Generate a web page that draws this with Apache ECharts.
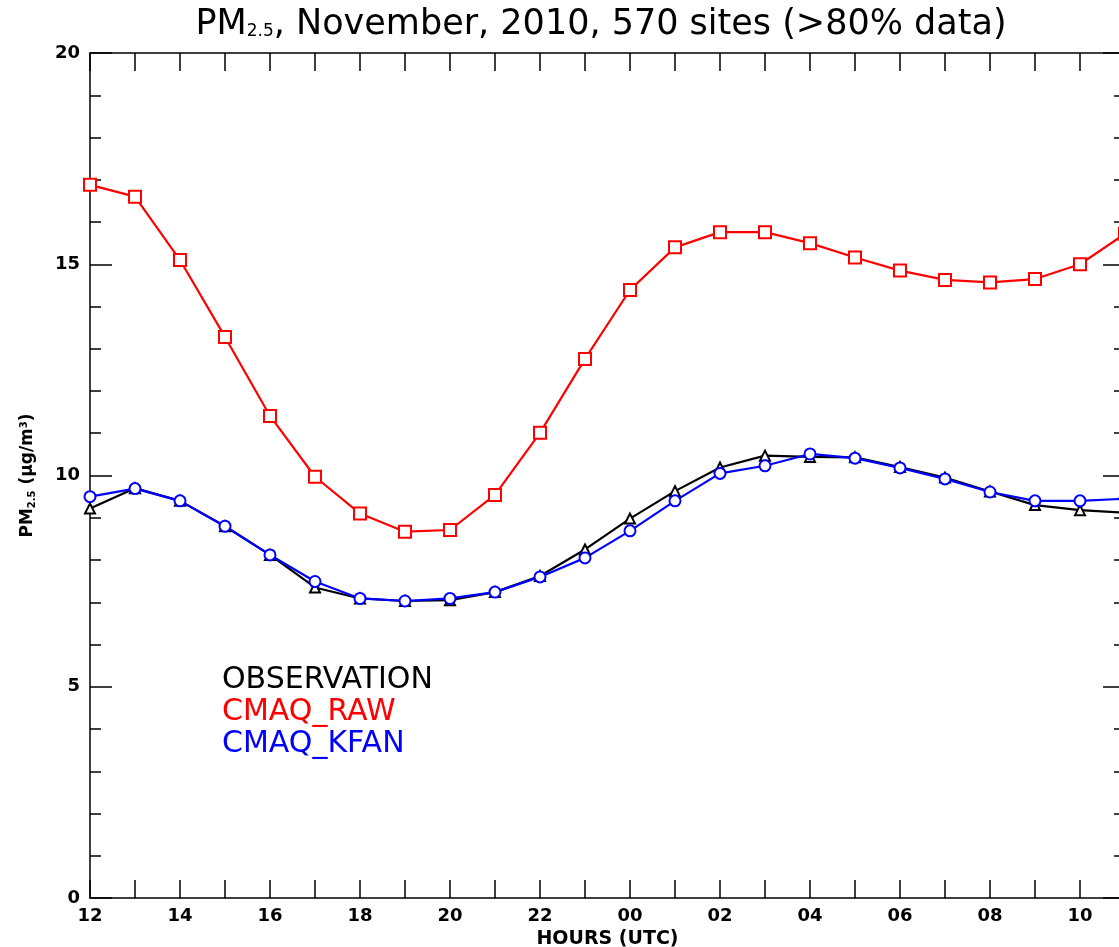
<!DOCTYPE html>
<html>
	<head>
		<meta charset="utf-8">
		<title>PM2.5 diurnal</title>
		<script src="https://cdn.jsdelivr.net/npm/echarts@6/dist/echarts.min.js"></script>
		<style>
			html, body {
				margin: 0;
				padding: 0;
				background: #fff;
			}
			#main {
				width: 1119px;
				height: 947px;
			}
		</style>
	</head>
	<body>
		<div id="main"></div>
	</body>
	<script>
		// hours (UTC), from 12 to 11 next day
		var hours = ["12", "13", "14", "15", "16", "17", "18", "19", "20", "21", "22", "23",
			"00", "01", "02", "03", "04", "05", "06", "07", "08", "09", "10", "11"];

		var observation = [9.22, 9.70, 9.40, 8.80, 8.12, 7.35, 7.09, 7.03, 7.05, 7.24, 7.62, 8.25,
			8.98, 9.63, 10.19, 10.47, 10.44, 10.43, 10.20, 9.95, 9.62, 9.30, 9.18, 9.12];
		var cmaqRaw = [16.88, 16.60, 15.10, 13.28, 11.41, 9.97, 9.10, 8.67, 8.71, 9.54, 11.01, 12.76,
			14.39, 15.40, 15.76, 15.76, 15.50, 15.16, 14.85, 14.63, 14.57, 14.65, 15.00, 15.72];
		var cmaqKfan = [9.50, 9.69, 9.40, 8.80, 8.12, 7.49, 7.09, 7.03, 7.09, 7.24, 7.60, 8.05,
			8.69, 9.40, 10.05, 10.23, 10.51, 10.41, 10.18, 9.92, 9.61, 9.40, 9.40, 9.45];

		var font = "DejaVu Sans";

		var tickStyle = { color: "#000", width: 1.5 };

		function xAxisCfg(pos, showLabel) {
			return {
				type: "category",
				position: pos,
				data: hours,
				boundaryGap: false,
				axisLine: { show: true, onZero: false, lineStyle: tickStyle },
				axisTick: { show: true, inside: true, length: 18, interval: 0, lineStyle: tickStyle },
				axisLabel: {
					show: showLabel,
					interval: 1,
					margin: 9,
					color: "#000",
					fontFamily: font,
					fontWeight: "bold",
					fontSize: 18
				},
				splitLine: { show: false }
			};
		}

		function yAxisCfg(pos, showLabel) {
			return {
				type: "value",
				position: pos,
				min: 0,
				max: 20,
				interval: 5,
				axisLine: { show: true, onZero: false, lineStyle: tickStyle },
				axisTick: { show: true, inside: true, length: 22, lineStyle: tickStyle },
				minorTick: { show: true, splitNumber: 5, length: 11, lineStyle: tickStyle },
				axisLabel: {
					show: showLabel,
					margin: 10,
					color: "#000",
					fontFamily: font,
					fontWeight: "bold",
					fontSize: 18
				},
				splitLine: { show: false }
			};
		}

		var xBottom = xAxisCfg("bottom", true);
		xBottom.name = "HOURS (UTC)";
		xBottom.nameLocation = "middle";
		xBottom.nameGap = 29;
		xBottom.nameTextStyle = { color: "#000", fontFamily: font, fontWeight: "bold", fontSize: 19 };

		var yLeft = yAxisCfg("left", true);
		yLeft.name = "PM{s|2.5} (μg/m{u|3})";
		yLeft.nameLocation = "middle";
		yLeft.nameGap = 53;
		yLeft.nameRotate = 90;
		yLeft.nameTextStyle = {
			color: "#000", fontFamily: font, fontWeight: "bold", fontSize: 17,
			rich: {
				s: { fontSize: 10, fontWeight: "bold", fontFamily: font, color: "#000", padding: [8, 0, 0, 0] },
				u: { fontSize: 10, fontWeight: "bold", fontFamily: font, color: "#000", padding: [0, 0, 8, 0] }
			}
		};

		function lineSeries(name, data, color, symbol, size) {
			return {
				name: name,
				type: "line",
				data: data,
				xAxisIndex: 0,
				yAxisIndex: 0,
				symbol: symbol,
				symbolSize: size,
				showAllSymbol: true,
				lineStyle: { color: color, width: 2.2 },
				itemStyle: { color: color, borderWidth: 2 },
				emphasis: { disabled: true },
				animation: false
			};
		}

		var option = {
			backgroundColor: "#fff",
			animation: false,
			title: {
				text: "PM{s|2.5}, November, 2010, 570 sites (>80% data)",
				left: 596,
				textAlign: "center",
				top: 2,
				textStyle: {
					color: "#000",
					fontFamily: font,
					fontWeight: "normal",
					fontSize: 35,
					rich: {
						s: { fontSize: 17, fontFamily: font, color: "#000", padding: [14, 0, 0, 0] }
					}
				}
			},
			legend: {
				orient: "vertical",
				left: 212,
				top: 660,
				itemGap: 2,
				itemWidth: 0,
				itemHeight: 0,
				icon: "none",
				selectedMode: false,
				textStyle: { fontFamily: font, fontSize: 30, lineHeight: 30 },
				data: [
					{ name: "OBSERVATION", textStyle: { color: "#000" } },
					{ name: "CMAQ_RAW", textStyle: { color: "#ff0000" } },
					{ name: "CMAQ_KFAN", textStyle: { color: "#0000ff" } }
				]
			},
			grid: {
				left: 90,
				top: 53,
				width: 1035,
				height: 845,
				containLabel: false,
				outerBoundsMode: "none"
			},
			xAxis: [xBottom, xAxisCfg("top", false)],
			yAxis: [yLeft, yAxisCfg("right", false)],
			series: [
				lineSeries("OBSERVATION", observation, "#000000", "emptyTriangle", 10),
				lineSeries("CMAQ_RAW", cmaqRaw, "#ff0000", "emptyRect", 12),
				lineSeries("CMAQ_KFAN", cmaqKfan, "#0000ff", "emptyCircle", 11)
			]
		};

		var chart = echarts.init(document.getElementById("main"));
		chart.setOption(option);
	</script>
</html>
